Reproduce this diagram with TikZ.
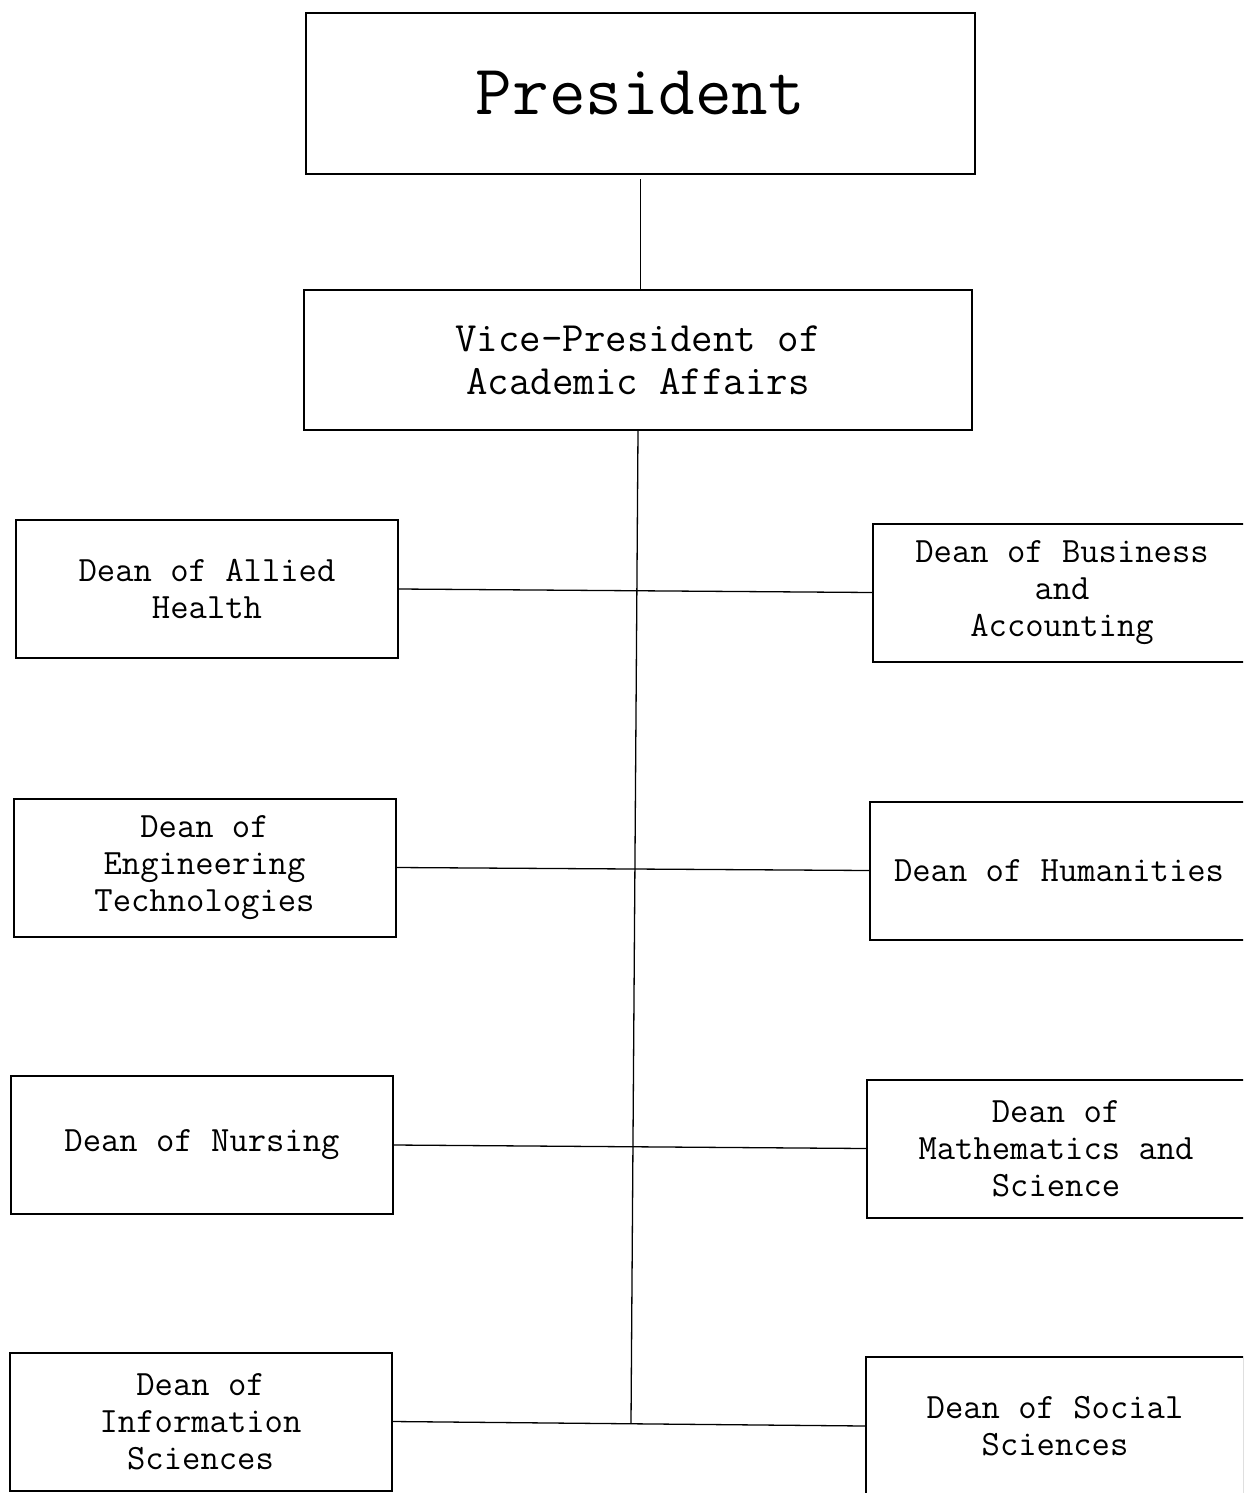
\documentclass[tikz,border=0pt]{standalone}
\usepackage{fontspec}
\newfontfamily\chartmono{Latin Modern Mono}
\begin{document}
\begin{tikzpicture}[x=1pt,y=-1pt,
  box/.style={draw, line width=2pt, inner sep=0pt, align=center, font=\chartmono\fontsize{35.6}{37}\selectfont},
  deanbox/.style={box, minimum width=382pt, minimum height=138pt},
  link/.style={line width=1.3pt}]
\clip (0,0) rectangle (1243,1493);
\fill[white] (0,0) rectangle (1243,1493);
% top boxes
\node[box, minimum width=669pt, minimum height=161pt, font=\chartmono\fontsize{71}{78}\selectfont] (pres) at (640.5,93.5) {President};
\node[box, minimum width=668pt, minimum height=140pt, font=\chartmono\fontsize{41.7}{43}\selectfont] (vp) at (638,360) {Vice-President of\\Academic Affairs};
% left column
\node[deanbox] (allied) at (207,589) {Dean of Allied\\Health};
\node[deanbox] (eng) at (204.5,867.5) {Dean of\\Engineering\\Technologies};
\node[deanbox] (nurs) at (202,1145) {Dean of Nursing};
\node[deanbox] (info) at (200.5,1421.5) {Dean of\\Information\\Sciences};
% right column
\node[deanbox, minimum width=378pt] (bus) at (1062,592.5) {Dean of Business\\and\\Accounting};
\node[deanbox, minimum width=378pt] (hum) at (1059,870.5) {Dean of Humanities};
\node[deanbox, minimum width=378pt] (math) at (1056,1148.5) {Dean of\\Mathematics and\\Science};
\node[deanbox, minimum width=378pt] (soc) at (1055,1426) {Dean of Social\\Sciences};
% connectors
\coordinate (trunkend) at (631,1423);
\draw[link] ([yshift=-4pt]pres.south) -- (pres.south |- vp.north);
\draw[link] (vp.south) -- (trunkend);
\draw[link] (allied.east) -- (bus.west);
\draw[link] (eng.east) -- (hum.west);
\draw[link] (nurs.east) -- (math.west);
\draw[link] (info.east) -- (soc.west);
\end{tikzpicture}
\end{document}
